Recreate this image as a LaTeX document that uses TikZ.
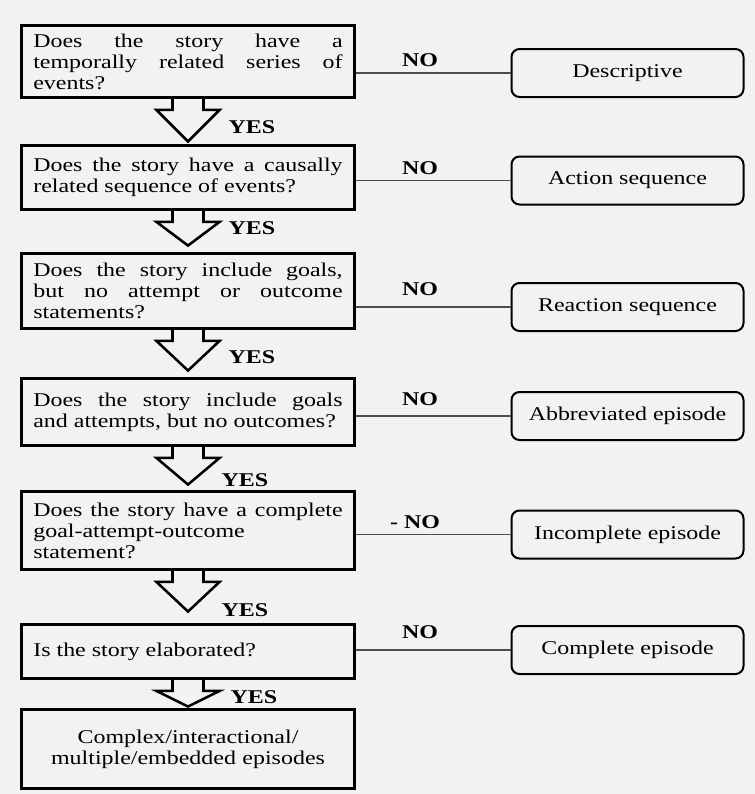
\documentclass[tikz,border=0pt]{standalone}
\usepackage{fontspec}
\setmainfont[FakeStretch=1.23]{Liberation Serif}
\usetikzlibrary{calc}

\newcommand{\qfont}{\fontsize{14.6}{15.8}\selectfont\hyphenpenalty=10000\tolerance=10000\hbadness=10000}

\tikzset{
  question/.style={draw, line width=2.2pt, text width=232pt, inner xsep=9pt, inner ysep=2pt, align=justify, font=\qfont},
  result/.style={draw, rounded corners=6pt, line width=1.5pt, minimum width=174pt, minimum height=36pt, font=\qfont},
  answer/.style={font=\qfont\bfseries},
  noline/.style={line width=0.8pt, black!70},
  yesarrow/.style={line width=1.9pt, line join=miter},
}

% block arrow from one question box down to the next
\newcommand{\yesstep}[3]{%
  \draw[yesarrow] ($(#1.south)+(-15.5,0)$) -- ++(0,11) -- ++(-16,0)
    -- ($(#2.north)+(0,-#3)$) -- ($(#1.south)+(31.5,11)$) -- ++(-16,0) -- ++(0,-11);
}

\begin{document}
\begin{tikzpicture}[x=0.75pt,y=-0.75pt]
\fill[black!5] (0,0) rectangle (755,794);
\useasboundingbox (0,0) rectangle (755,794);

% questions
\node[question, minimum height=54pt] (q1) at (188,61.5)
  {Does the story have a\linebreak temporally related series of\linebreak events?};
\node[question, minimum height=48pt] (q2) at (188,177.5)
  {Does the story have a causally\linebreak related sequence of events?};
\node[question, minimum height=56.25pt] (q3) at (188,291)
  {Does the story include goals,\linebreak but no attempt or outcome\linebreak statements?};
\node[question, minimum height=50.25pt] (q4) at (188,412)
  {Does the story include goals\linebreak and attempts, but no outcomes?};
\node[question, minimum height=58.5pt] (q5) at (188,530.5)
  {Does the story have a complete\linebreak goal-attempt-outcome\linebreak statement?};
\node[question, minimum height=40.5pt] (q6) at (188,651.5)
  {Is the story elaborated?};
\node[question, minimum height=59.25pt, align=center] (q7) at (188,749)
  {Complex/interactional/\\multiple/embedded episodes};

% outcomes
\node[result] (r1) at (627.5,73) {Descriptive};
\node[result] (r2) at (627.5,180.5) {Action sequence};
\node[result] (r3) at (627.5,307) {Reaction sequence};
\node[result] (r4) at (627.5,416) {Abbreviated episode};
\node[result] (r5) at (627.5,534.5) {Incomplete episode};
\node[result] (r6) at (627.5,650) {Complete episode};

% NO branches
\foreach \i in {1,...,6}
  \draw[noline] (r\i.west) -- (r\i.west -| q\i.east);
\node[answer] (no1) at (420,60) {NO};
\node[answer] (no2) at (420,168) {NO};
\node[answer] (no3) at (420,289) {NO};
\node[answer] (no4) at (420,399) {NO};
\node[answer] (no5) at (415,522) {- NO};
\node[answer] (no6) at (420,632) {NO};

% YES branches
\yesstep{q1}{q2}{2.5}
\yesstep{q2}{q3}{6.5}
\yesstep{q3}{q4}{6.5}
\yesstep{q4}{q5}{5.5}
\yesstep{q5}{q6}{11.5}
\yesstep{q6}{q7}{1.5}
\node[answer] (yes1) at (252,127) {YES};
\node[answer] (yes2) at (252,228) {YES};
\node[answer] (yes3) at (252,357) {YES};
\node[answer] (yes4) at (245,480) {YES};
\node[answer] (yes5) at (245,610) {YES};
\node[answer] (yes6) at (254,697) {YES};
\end{tikzpicture}
\end{document}
